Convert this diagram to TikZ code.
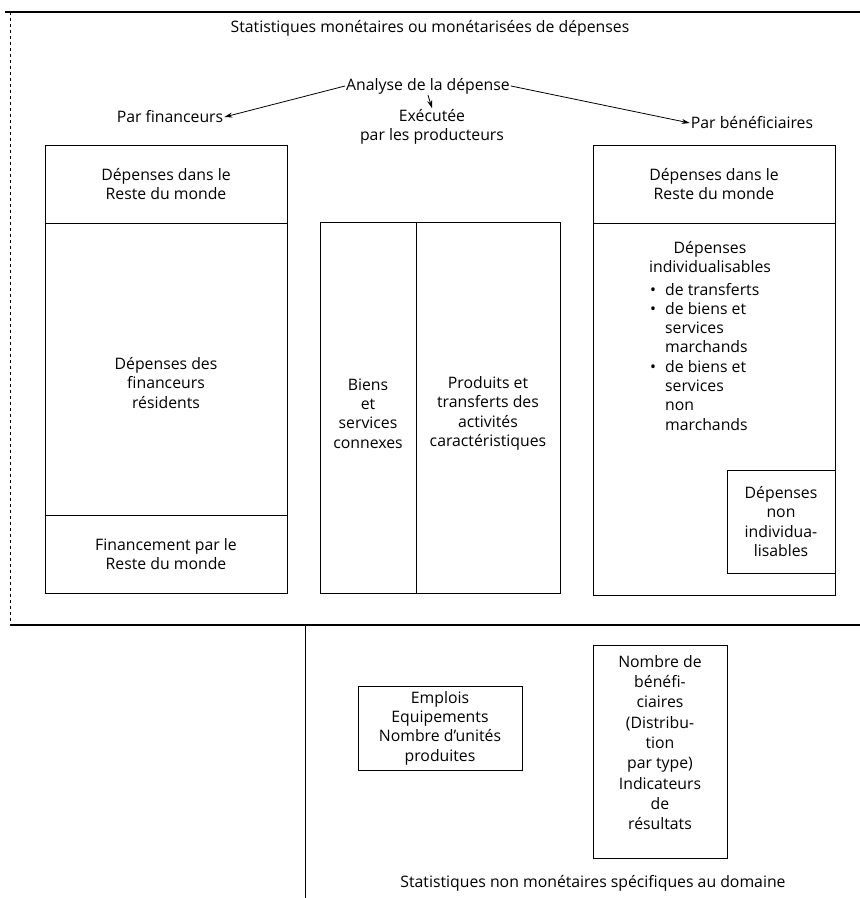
\documentclass[tikz,border=0pt]{standalone}
\usepackage{fontspec}
\setmainfont{Open Sans}
\usetikzlibrary{arrows.meta,positioning}

\tikzset{
  lbl/.style={font=\fontsize{15.8}{19.3}\selectfont, inner sep=1pt, align=center},
  cell/.style={draw, line width=0.9pt, inner sep=0pt},
  fleche/.style={-{Stealth[length=8pt,width=5pt]}, line width=0.8pt},
  cadre/.style={line width=1.6pt},
}

\begin{document}
\begin{tikzpicture}[x=1pt,y=-1pt]
  \useasboundingbox (0,0) rectangle (860,898);
  % cadre des statistiques monetaires
  \coordinate (hg) at (5,12);
  \coordinate (hd) at (860,12);
  \coordinate (bg) at (10,625);
  \coordinate (bd) at (860,625);
  \draw[cadre] (hg) -- (hd);
  \draw[cadre] (bg) -- (bd);
  \draw[line width=0.8pt, dashed] (10,12) -- (bg);
  \draw[line width=1pt] (305,625) -- (305,898);

  \node[lbl] (titre) at (430,28) {Statistiques monétaires ou monétarisées de dépenses};
  \node[lbl] (analyse) at (428,86) {Analyse de la dépense};
  \node[lbl] (fin) at (170,117) {Par financeurs};
  \node[lbl] (exec) at (432,127) {Exécutée\\par les producteurs};
  \node[lbl] (benef) at (752,123) {Par bénéficiaires};
  \draw[fleche] (analyse.west) -- (fin.east);
  \draw[fleche] (analyse.south) -- (exec.north);
  \draw[fleche] (analyse.east) -- (benef.west);

  % par financeurs
  \node[cell, minimum width=242, minimum height=78] (fmonde) at (166,184) {};
  \node[cell, minimum width=242, minimum height=292] (fresid) at (166,369) {};
  \node[cell, minimum width=242, minimum height=78] (fext) at (166,554) {};
  \node[lbl] (tfmonde) at (fmonde.center) {Dépenses dans le\\Reste du monde};
  \node[lbl] (tfresid) at ([yshift=-14]fresid.center) {Dépenses des\\financeurs\\résidents};
  \node[lbl] (tfext) at (fext.center) {Financement par le\\Reste du monde};

  % executee par les producteurs
  \node[cell, minimum width=96, minimum height=371] (biens) at (368,407.5) {};
  \node[cell, minimum width=144, minimum height=371] (produits) at (488,407.5) {};
  \node[lbl] (tbiens) at ([yshift=-6]biens.center) {Biens\\et\\services\\connexes};
  \node[lbl] (tproduits) at ([yshift=-6]produits.center) {Produits et\\transferts des\\activités\\caractéristiques};

  % par beneficiaires
  \node[cell, minimum width=242, minimum height=78] (bmonde) at (714,184) {};
  \node[cell, minimum width=242, minimum height=372] (bindiv) at (714,409) {};
  \node[cell, minimum width=108, minimum height=103] (bnon) at (781,521.5) {};
  \node[lbl] (tbmonde) at (bmonde.center) {Dépenses dans le\\Reste du monde};
  \node[lbl, anchor=north] (tindiv) at (710,240) {Dépenses\\individualisables};
  \node[lbl, anchor=base west, align=left] (liste) at (649,295) {%
    \begin{tabular}[t]{@{}l@{\hspace{9pt}}l@{}}
      \textbullet & de transferts\\
      \textbullet & de biens et\\
                  & services\\
                  & marchands\\
      \textbullet & de biens et\\
                  & services\\
                  & non\\
                  & marchands
    \end{tabular}};
  \node[lbl] (tbnon) at (bnon.center) {Dépenses\\non\\individua-\\lisables};

  % statistiques non monetaires
  \node[cell, minimum width=164, minimum height=84] (emplois) at (440,728) {};
  \node[lbl] (templois) at (emplois.center) {Emplois\\Equipements\\Nombre d'unités\\produites};
  \node[cell, minimum width=134, minimum height=213] (nombre) at (660,751.5) {};
  \node[lbl, font=\fontsize{15.8}{20.3}\selectfont] (tnombre) at ([yshift=9]nombre.center) {Nombre de\\bénéfi-\\ciaires\\(Distribu-\\tion\\par type)\\Indicateurs\\de\\résultats};
  \node[lbl] (nonmon) at (593,883) {Statistiques non monétaires spécifiques au domaine};
\end{tikzpicture}
\end{document}
